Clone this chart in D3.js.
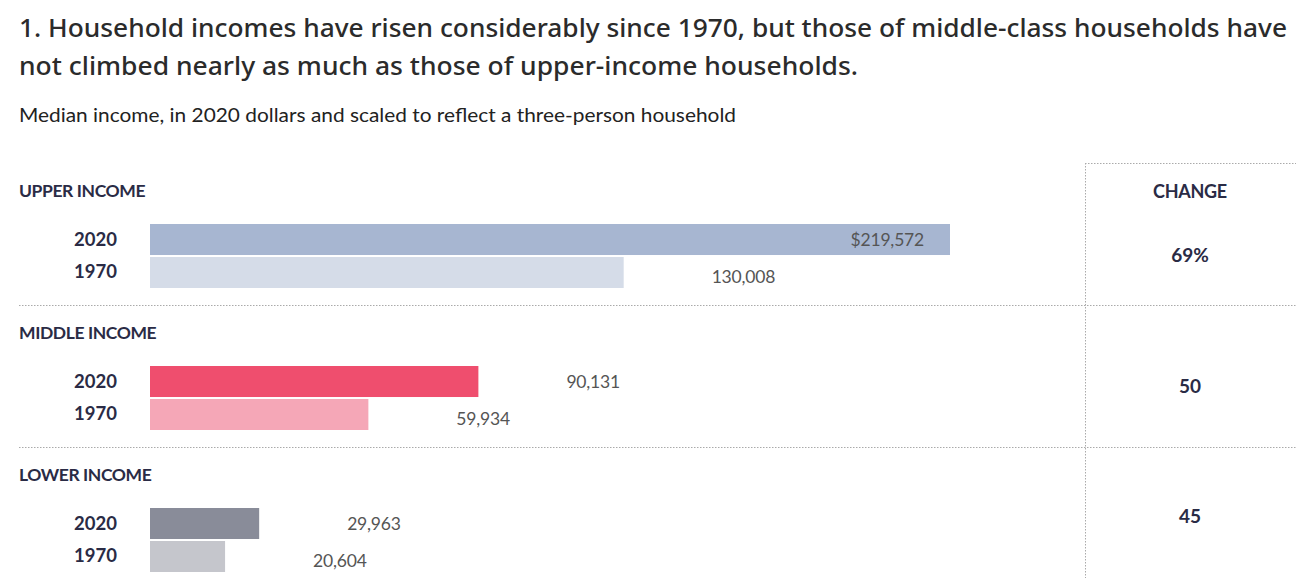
<!DOCTYPE html>
<html>
<head>
<meta charset="utf-8">
<script src="https://cdn.jsdelivr.net/npm/d3@7"></script>
<style>
  body { margin: 0; background: #fff; }
  svg { display: block; }
  .title { font-family: 'Noto Sans', sans-serif; font-size: 25px; font-weight: 500; fill: #2b2b2b; }
  .subtitle { font-family: Lato, sans-serif; font-size: 18.5px; fill: #222; }
  .group-label { font-family: Lato, sans-serif; font-size: 17.5px; font-weight: 700; fill: #2a2b45; letter-spacing: -0.4px; }
  .year { font-family: Lato, sans-serif; font-size: 18.5px; font-weight: 700; fill: #2a2b45; }
  .change-head { font-family: Lato, sans-serif; font-size: 18px; font-weight: 700; fill: #2a2b45; letter-spacing: -0.3px; }
  .value { font-family: Lato, sans-serif; font-size: 17.5px; fill: #555; letter-spacing: -0.2px; }
  .change { font-family: Lato, sans-serif; font-size: 19px; font-weight: 700; fill: #2a2b45; }
  .rule { stroke: #aaa; stroke-width: 1; stroke-dasharray: 1.5 1.5; fill: none; }
</style>
</head>
<body>
<svg id="chart"></svg>
<script>
const groups = ['UPPER INCOME', 'MIDDLE INCOME', 'LOWER INCOME']
const years = ['2020', '1970']
const income2020 = [219572, 90131, 29963]
const income1970 = [130008, 59934, 20604]
const changeLabels = ['69%', '50', '45']

const titleLines = [
  '1. Household incomes have risen considerably since 1970, but those of middle-class households have',
  'not climbed nearly as much as those of upper-income households.'
]
const subtitle = 'Median income, in 2020 dollars and scaled to reflect a three-person household'

const dimensions = { w: 1296, h: 578 }

const svg = d3.select('#chart')
  .attr('width', dimensions.w)
  .attr('height', dimensions.h)

// heading
svg.selectAll('text.title')
  .data(titleLines)
  .join('text')
  .attr('class', 'title')
  .attr('x', 19)
  .attr('y', (d, i) => 37 + i * 38)
  .attr('textLength', (d, i) => i ? 839 : 1268)
  .attr('lengthAdjust', 'spacingAndGlyphs')
  .text(d => d)

svg.append('text')
  .attr('class', 'subtitle')
  .attr('x', 19)
  .attr('y', 122)
  .attr('textLength', 717)
  .attr('lengthAdjust', 'spacingAndGlyphs')
  .text(subtitle)

const rows = groups.map((g, i) => ({
  group: g,
  change: changeLabels[i],
  values: [
    { group: g, year: years[0], value: income2020[i] },
    { group: g, year: years[1], value: income1970[i] }
  ]
}))

const scales = {
  x: d3.scaleLinear()
    .domain([0, d3.max(income2020)])
    .range([150, 950]),
  group: d3.scaleBand()
    .domain(groups)
    .range([163, 163 + groups.length * 142]),
  year: d3.scaleBand()
    .domain(years)
    .range([0, 64])
    .paddingInner(0.06),
  change: d3.scalePoint()
    .domain(groups)
    .range([255, 516]),
  color: d3.scaleOrdinal()
    .domain(groups.flatMap(g => years.map(y => g + y)))
    .range(['#a7b6d1', '#d5dce8', '#ef4e6e', '#f5a7b7', '#898c99', '#c5c6cc'])
}

// dotted rules
svg.selectAll('line.sep')
  .data(groups.slice(1))
  .join('line')
  .attr('class', 'rule sep')
  .attr('x1', 19)
  .attr('x2', dimensions.w)
  .attr('y1', d => Math.round(scales.group(d)) + 0.5)
  .attr('y2', d => Math.round(scales.group(d)) + 0.5)

svg.append('line')
  .attr('class', 'rule')
  .attr('x1', 1085.5).attr('x2', 1085.5)
  .attr('y1', 163).attr('y2', dimensions.h)

svg.append('line')
  .attr('class', 'rule')
  .attr('x1', 1085).attr('x2', dimensions.w)
  .attr('y1', 163.5).attr('y2', 163.5)

const group = svg.selectAll('g.group')
  .data(rows)
  .join('g')
  .attr('class', 'group')
  .attr('transform', d => `translate(0, ${scales.group(d.group)})`)

group.append('text')
  .attr('class', 'group-label')
  .attr('x', 19)
  .attr('y', 34)
  .text(d => d.group)

const bars = group.append('g')
  .attr('transform', 'translate(0, 61)')

bars.selectAll('rect')
  .data(d => d.values)
  .join('rect')
  .attr('x', scales.x(0))
  .attr('y', d => scales.year(d.year))
  .attr('width', d => scales.x(d.value) - scales.x(0))
  .attr('height', scales.year.bandwidth())
  .attr('fill', d => scales.color(d.group + d.year))

bars.selectAll('text.year')
  .data(d => d.values)
  .join('text')
  .attr('class', 'year')
  .attr('x', 117)
  .attr('y', d => scales.year(d.year) + scales.year.bandwidth() / 2 + 6)
  .attr('text-anchor', 'end')
  .text(d => d.year)

const maxValue = d3.max(income2020)
const fmt = d3.format(',')

bars.selectAll('text.value')
  .data(d => d.values)
  .join('text')
  .attr('class', 'value')
  .attr('x', d => d.value === maxValue ? scales.x(d.value) - 26 : scales.x(d.value) + 88)
  .attr('y', d => scales.year(d.year) + scales.year.bandwidth() / 2 + 6 + (d.year === '1970' ? 5 : 0))
  .attr('text-anchor', d => d.value === maxValue ? 'end' : 'start')
  .text(d => (d.value === maxValue ? '$' : '') + fmt(d.value))

// change column
svg.append('text')
  .attr('class', 'change-head')
  .attr('x', 1190)
  .attr('y', 198)
  .attr('text-anchor', 'middle')
  .text('CHANGE')

svg.selectAll('text.change')
  .data(rows)
  .join('text')
  .attr('class', 'change')
  .attr('x', 1190)
  .attr('y', d => scales.change(d.group) + 7)
  .attr('text-anchor', 'middle')
  .text(d => d.change)
</script>
</body>
</html>
